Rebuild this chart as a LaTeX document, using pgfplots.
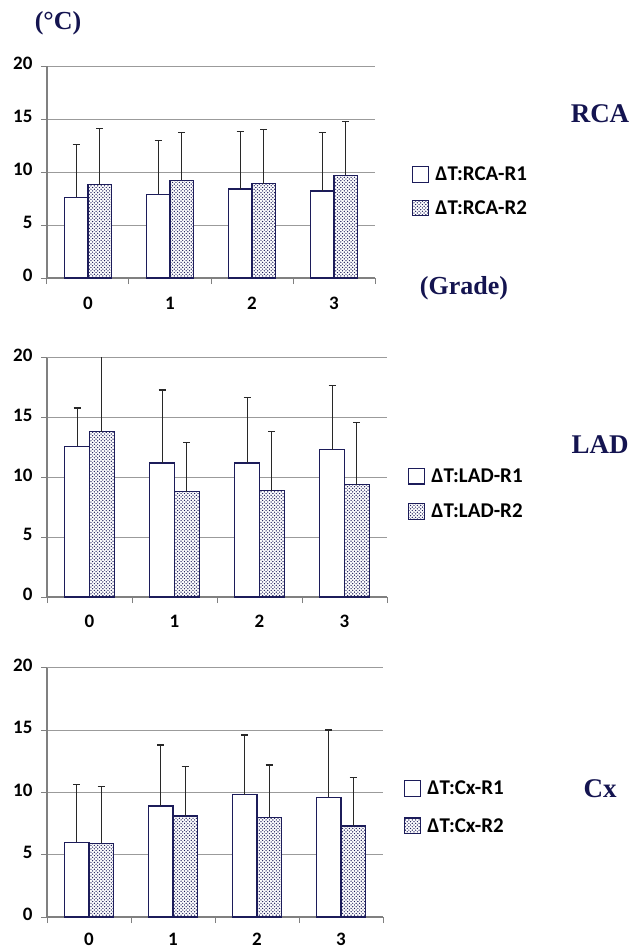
\documentclass[border=0pt]{standalone}
\usepackage{pgfplots}
\pgfplotsset{compat=1.18}
\usetikzlibrary{patterns}
\usepackage{fontspec}
\setmainfont{Carlito}
\newfontfamily\serifb{Liberation Serif}
\definecolor{barnavy}{RGB}{28,28,90}
\definecolor{txtnavy}{RGB}{20,20,80}
\definecolor{axgray}{RGB}{128,128,128}
\definecolor{gridgray}{RGB}{155,155,155}
\definecolor{errgray}{RGB}{40,40,40}

\pgfdeclarepatternformonly[\dotcolor]{mydots}{\pgfqpoint{-1pt}{-1pt}}{\pgfqpoint{4.4pt}{4.4pt}}{\pgfqpoint{3.4pt}{3.4pt}}{%
  \pgfsetfillcolor{\dotcolor}%
  \pgfpathcircle{\pgfqpoint{0.85pt}{0.85pt}}{0.7pt}%
  \pgfpathcircle{\pgfqpoint{2.55pt}{2.55pt}}{0.7pt}%
  \pgfusepath{fill}}
\def\dotcolor{barnavy}

\pgfplotsset{
  panel/.style={
    scale only axis, anchor=south west,
    ymin=0, ymax=20, ytick={0,5,10,15,20},
    xmin=-0.5, xmax=3.5, xtick={0,1,2,3},
    minor xtick={-0.5,0.5,1.5,2.5,3.5},
    axis x line*=bottom, axis y line*=left,
    axis line style={draw=axgray, line width=1.3pt},
    ymajorgrids, grid style={draw=gridgray, line width=1pt},
    major tick length=6pt, minor tick length=6pt, tick align=outside,
    major x tick style={draw=none},
    minor x tick style={draw=axgray, line width=1pt},
    ytick style={draw=axgray, line width=1pt},
    /pgf/number format/assume math mode=true,
    typeset ticklabels with strut,
    ticklabel style={font=\bfseries\fontsize{19}{19}\selectfont},
    yticklabel style={xshift=-5pt},
    ybar, bar width=0.29,
    legend style={draw=none, fill=none, anchor=north west, inner sep=0pt,
      font=\bfseries\fontsize{21}{21}\selectfont, legend cell align=left},
    legend image code/.code={\draw[#1, line width=1.2pt] (0pt,-7.5pt) rectangle (16pt,8pt);\path (20pt,0pt);},
  },
  errstyle/.style={error bars/.cd, y dir=plus, y explicit,
    error bar style={draw=errgray, line width=1.2pt},
    error mark options={draw=errgray, line width=1.2pt, mark size=3.5pt, rotate=90}},
  r1/.style={draw=barnavy, line width=1.2pt, fill=white, bar shift=-0.145, errstyle},
  r2/.style={draw=barnavy, line width=1.2pt, fill=white, postaction={pattern=mydots},
    bar shift=0.145, errstyle},
}

\begin{document}
\begin{tikzpicture}
\path[use as bounding box] (0,0) rectangle (633pt,-950pt);

% ---------- RCA ----------
\begin{axis}[panel, at={(47pt,-278pt)}, width=328pt, height=212pt,
  xticklabel style={yshift=-9pt},
  legend style={at={(axis description cs:1.113,0.533)}, row sep=14pt}]
\addplot[r1] coordinates {(0,7.6) +- (0,5.0) (1,7.9) +- (0,5.1) (2,8.4) +- (0,5.4) (3,8.2) +- (0,5.5)};
\addplot[r2] coordinates {(0,8.8) +- (0,5.3) (1,9.2) +- (0,4.5) (2,8.9) +- (0,5.1) (3,9.7) +- (0,5.1)};
\legend{ΔT:RCA-R1, ΔT:RCA-R2}
\end{axis}

% ---------- LAD ----------
\begin{axis}[panel, at={(47pt,-597pt)}, width=340pt, height=239.3pt,
  xticklabel style={yshift=-8pt},
  legend style={at={(axis description cs:1.062,0.544)}, row sep=16pt}]
\addplot[r1] coordinates {(0,12.6) +- (0,3.2) (1,11.2) +- (0,6.1) (2,11.2) +- (0,5.5) (3,12.3) +- (0,5.4)};
\addplot[r2] coordinates {(0,13.8) +- (0,6.6) (1,8.8) +- (0,4.1) (2,8.9) +- (0,4.9) (3,9.4) +- (0,5.2)};
\legend{ΔT:LAD-R1, ΔT:LAD-R2}
\end{axis}

% ---------- Cx ----------
\begin{axis}[panel, at={(47pt,-917pt)}, width=336pt, height=249.3pt,
  xticklabel style={yshift=-6pt},
  legend style={at={(axis description cs:1.0625,0.554)}, row sep=18pt}]
\addplot[r1] coordinates {(0,6.0) +- (0,4.6) (1,8.9) +- (0,4.9) (2,9.8) +- (0,4.8) (3,9.6) +- (0,5.4)};
\addplot[r2] coordinates {(0,5.9) +- (0,4.6) (1,8.1) +- (0,4.0) (2,8.0) +- (0,4.2) (3,7.3) +- (0,3.9)};
\legend{ΔT:Cx-R1, ΔT:Cx-R2}
\end{axis}

\begin{scope}[every node/.style={text=txtnavy, font=\serifb\bfseries\fontsize{26}{26}\selectfont, inner sep=0pt}]
\node at (58pt,-23pt) {(°C)};
\node at (464pt,-288pt) {(Grade)};
\node[font=\serifb\bfseries\fontsize{27}{27}\selectfont] at (600pt,-114pt) {RCA};
\node[font=\serifb\bfseries\fontsize{27}{27}\selectfont] at (600pt,-445pt) {LAD};
\node[font=\serifb\bfseries\fontsize{27}{27}\selectfont] at (600pt,-789pt) {Cx};
\end{scope}
\end{tikzpicture}
\end{document}
